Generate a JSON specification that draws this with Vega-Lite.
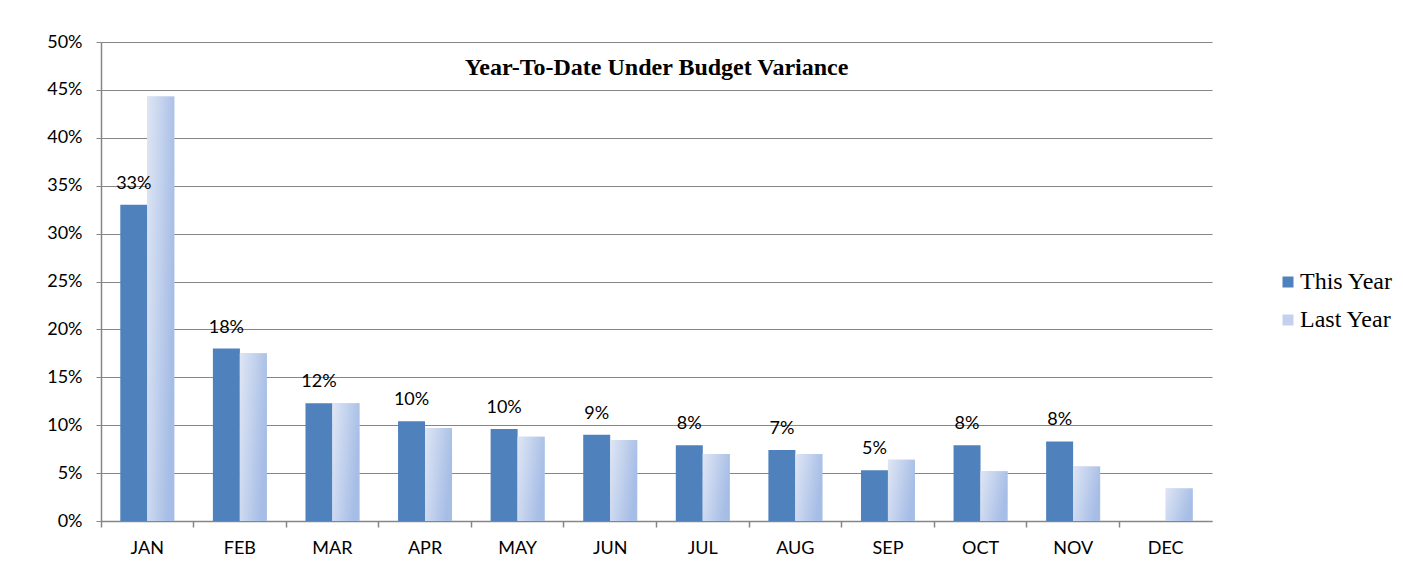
{
  "$schema": "https://vega.github.io/schema/vega-lite/v6.json",
  "width": 1111,
  "height": 479,
  "autosize": {"type": "none"},
  "padding": {"left": 101, "top": 42, "right": 191, "bottom": 61},
  "background": "white",
  "config": {
    "view": {"stroke": null},
    "axis": {"labelFont": "Lato", "labelFontSize": 18, "labelColor": "#000000", "domainColor": "#868686", "tickColor": "#868686", "gridColor": "#868686", "title": null}
  },
  "title": {
    "text": "Year-To-Date Under Budget Variance",
    "font": "Liberation Serif",
    "fontSize": 24,
    "fontWeight": "bold",
    "color": "#000000",
    "anchor": "middle",
    "frame": "group",
    "baseline": "alphabetic",
    "offset": -66
  },
  "data": {
    "values": [
      {"month": "JAN", "series": "This Year", "value": 0.330},
      {"month": "JAN", "series": "Last Year", "value": 0.443},
      {"month": "FEB", "series": "This Year", "value": 0.180},
      {"month": "FEB", "series": "Last Year", "value": 0.175},
      {"month": "MAR", "series": "This Year", "value": 0.123},
      {"month": "MAR", "series": "Last Year", "value": 0.123},
      {"month": "APR", "series": "This Year", "value": 0.104},
      {"month": "APR", "series": "Last Year", "value": 0.097},
      {"month": "MAY", "series": "This Year", "value": 0.096},
      {"month": "MAY", "series": "Last Year", "value": 0.088},
      {"month": "JUN", "series": "This Year", "value": 0.090},
      {"month": "JUN", "series": "Last Year", "value": 0.0845},
      {"month": "JUL", "series": "This Year", "value": 0.079},
      {"month": "JUL", "series": "Last Year", "value": 0.070},
      {"month": "AUG", "series": "This Year", "value": 0.074},
      {"month": "AUG", "series": "Last Year", "value": 0.070},
      {"month": "SEP", "series": "This Year", "value": 0.053},
      {"month": "SEP", "series": "Last Year", "value": 0.064},
      {"month": "OCT", "series": "This Year", "value": 0.079},
      {"month": "OCT", "series": "Last Year", "value": 0.052},
      {"month": "NOV", "series": "This Year", "value": 0.083},
      {"month": "NOV", "series": "Last Year", "value": 0.057},
      {"month": "DEC", "series": "Last Year", "value": 0.034}
    ]
  },
  "encoding": {
    "x": {
      "field": "month",
      "type": "nominal",
      "sort": ["JAN", "FEB", "MAR", "APR", "MAY", "JUN", "JUL", "AUG", "SEP", "OCT", "NOV", "DEC"],
      "scale": {"paddingInner": 0, "paddingOuter": 0},
      "axis": {"labelAngle": 0, "bandPosition": 0, "tickSize": 6, "labelPadding": 12, "grid": false, "domainWidth": 1.5, "tickWidth": 1.5}
    },
    "xOffset": {
      "field": "series",
      "type": "nominal",
      "sort": ["This Year", "Last Year"],
      "scale": {"paddingInner": 0, "paddingOuter": 0.715}
    },
    "y": {
      "field": "value",
      "type": "quantitative",
      "scale": {"domain": [0, 0.5], "nice": false},
      "axis": {"values": [0, 0.05, 0.1, 0.15, 0.2, 0.25, 0.3, 0.35, 0.4, 0.45, 0.5], "format": ".0%", "tickSize": 5, "labelPadding": 14, "grid": true, "gridWidth": 1.2, "domainWidth": 1.5}
    }
  },
  "layer": [
    {
      "mark": {"type": "bar"},
      "encoding": {
        "color": {
          "field": "series",
          "type": "nominal",
          "sort": ["This Year", "Last Year"],
          "scale": {"domain": ["This Year", "Last Year"], "range": ["#4f81bd", "#c3d1ee"]},
          "legend": {
            "title": null,
            "orient": "none",
            "legendX": 1175,
            "legendY": 228,
            "padding": 0,
            "symbolType": "square",
            "symbolSize": 121,
            "symbolStrokeWidth": 0,
            "labelFont": "Liberation Serif",
            "labelFontSize": 24,
            "labelColor": "#000000",
            "rowPadding": 14,
            "labelOffset": 0
          }
        }
      }
    },
    {
      "transform": [{"filter": "datum.series === 'Last Year'"}],
      "mark": {
        "type": "bar",
        "color": {
          "gradient": "linear",
          "x1": 0, "y1": 0, "x2": 1, "y2": 0.35,
          "stops": [
            {"offset": 0, "color": "#dfe6f4"},
            {"offset": 1, "color": "#a6bde6"}
          ]
        }
      }
    },
    {
      "transform": [{"filter": "datum.series === 'This Year'"}],
      "mark": {"type": "text", "font": "Lato", "fontSize": 18, "color": "#000000", "baseline": "middle", "dy": -21},
      "encoding": {
        "text": {"field": "value", "type": "quantitative", "format": ".0%"}
      }
    }
  ]
}
